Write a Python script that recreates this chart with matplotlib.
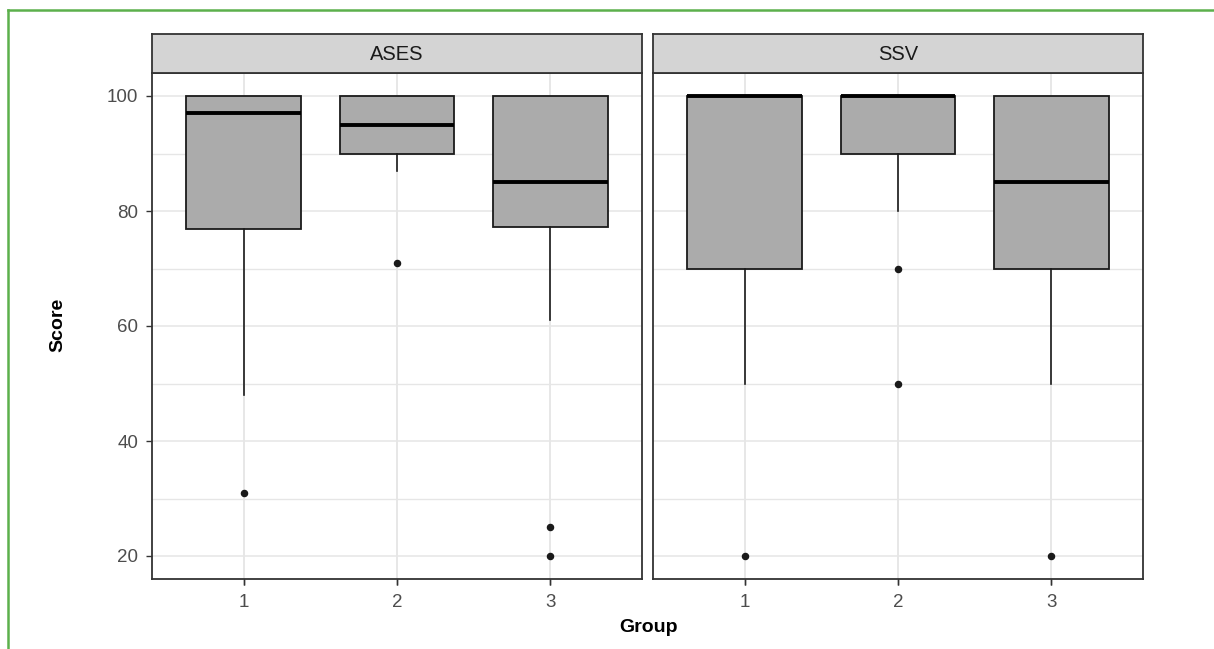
import matplotlib
matplotlib.use("Agg")
import matplotlib.pyplot as plt
from matplotlib.lines import Line2D

plt.rcParams["font.family"] = ["Liberation Sans", "DejaVu Sans"]

# Data (box summary stats per group)
panels = ["ASES", "SSV"]
group_labels = ["1", "2", "3"]

ases_q1 = [76.8, 90, 77.2]
ases_med = [97, 95, 85]
ases_q3 = [100, 100, 100]
ases_whislo = [48, 87, 61]
ases_whishi = [100, 100, 100]
ases_fliers = [[31], [71], [25, 20]]

ssv_q1 = [70, 90, 70]
ssv_med = [100, 100, 85]
ssv_q3 = [100, 100, 100]
ssv_whislo = [50, 80, 50]
ssv_whishi = [100, 100, 100]
ssv_fliers = [[20], [70, 50], [20]]

y_ticks = [20, 40, 60, 80, 100]
y_minor = [30, 50, 70, 90]


def make_stats(q1, med, q3, lo, hi, fliers):
    stats = []
    for i in range(len(q1)):
        stats.append({
            "q1": q1[i], "med": med[i], "q3": q3[i],
            "whislo": lo[i], "whishi": hi[i], "fliers": fliers[i],
        })
    return stats


panel_stats = [
    make_stats(ases_q1, ases_med, ases_q3, ases_whislo, ases_whishi, ases_fliers),
    make_stats(ssv_q1, ssv_med, ssv_q3, ssv_whislo, ssv_whishi, ssv_fliers),
]

W, H = 1214, 649
fig = plt.figure(figsize=(W / 100, H / 100), dpi=100)

# green frame lines (left and top)
fig.add_artist(Line2D([8 / W, 8 / W], [0, 1 - 10 / H], color="#5cb04c", lw=1.8,
                      transform=fig.transFigure))
fig.add_artist(Line2D([8 / W, 1], [1 - 10 / H, 1 - 10 / H], color="#5cb04c", lw=1.8,
                      transform=fig.transFigure))

panel_left = [152, 653]
panel_w = 490
panel_top, panel_bottom = 73, 579
strip_top = 34
border_col = "#333333"

for k, name in enumerate(panels):
    x0 = panel_left[k] / W
    ax = fig.add_axes([x0, 1 - panel_bottom / H, panel_w / W, (panel_bottom - panel_top) / H])
    ax.set_xlim(0.4, 3.6)
    ax.set_ylim(16, 104)
    ax.set_yticks(y_ticks)
    ax.set_yticks(y_minor, minor=True)
    ax.set_xticks([1, 2, 3])
    ax.set_xticklabels(group_labels)
    ax.grid(True, which="major", color="#e6e6e6", lw=1.1)
    ax.grid(True, which="minor", axis="y", color="#e6e6e6", lw=1.0)
    ax.set_axisbelow(True)

    ax.bxp(panel_stats[k], positions=[1, 2, 3], widths=0.75, patch_artist=True,
           showcaps=False,
           boxprops=dict(facecolor="#ababab", edgecolor="#1a1a1a", linewidth=1.3),
           medianprops=dict(color="black", linewidth=2.8, solid_capstyle="butt"),
           whiskerprops=dict(color="#1a1a1a", linewidth=1.2),
           flierprops=dict(marker="o", markerfacecolor="#1a1a1a",
                           markeredgecolor="#1a1a1a", markersize=4.4))
    ax.set_xlim(0.4, 3.6)
    ax.set_ylim(16, 104)

    for sp in ax.spines.values():
        sp.set_color(border_col)
        sp.set_linewidth(1.3)
    ax.tick_params(axis="both", which="major", length=4.5, width=1.0, color="#333333",
                   labelsize=13.5, labelcolor="#4d4d4d")
    ax.tick_params(axis="y", which="major", pad=5.5)
    ax.tick_params(axis="x", which="major", pad=6)
    ax.tick_params(axis="y", which="minor", length=0)
    if k == 1:
        ax.tick_params(axis="y", which="major", length=0, labelleft=False)

    # facet strip
    sax = fig.add_axes([x0, 1 - panel_top / H, panel_w / W, (panel_top - strip_top) / H])
    sax.set_facecolor("#d4d4d4")
    sax.set_xticks([])
    sax.set_yticks([])
    for sp in sax.spines.values():
        sp.set_color(border_col)
        sp.set_linewidth(1.3)
    sax.text(0.5, 0.48, name, ha="center", va="center", fontsize=14.5,
             color="#1a1a1a", transform=sax.transAxes)

fig.text(648 / W, 1 - 628 / H, "Group", ha="center", va="center",
         fontsize=14, fontweight="bold")
fig.text(58 / W, 1 - 325 / H, "Score", ha="center", va="center",
         fontsize=14, fontweight="bold", rotation=90)

fig.savefig("out.png", dpi=100)
